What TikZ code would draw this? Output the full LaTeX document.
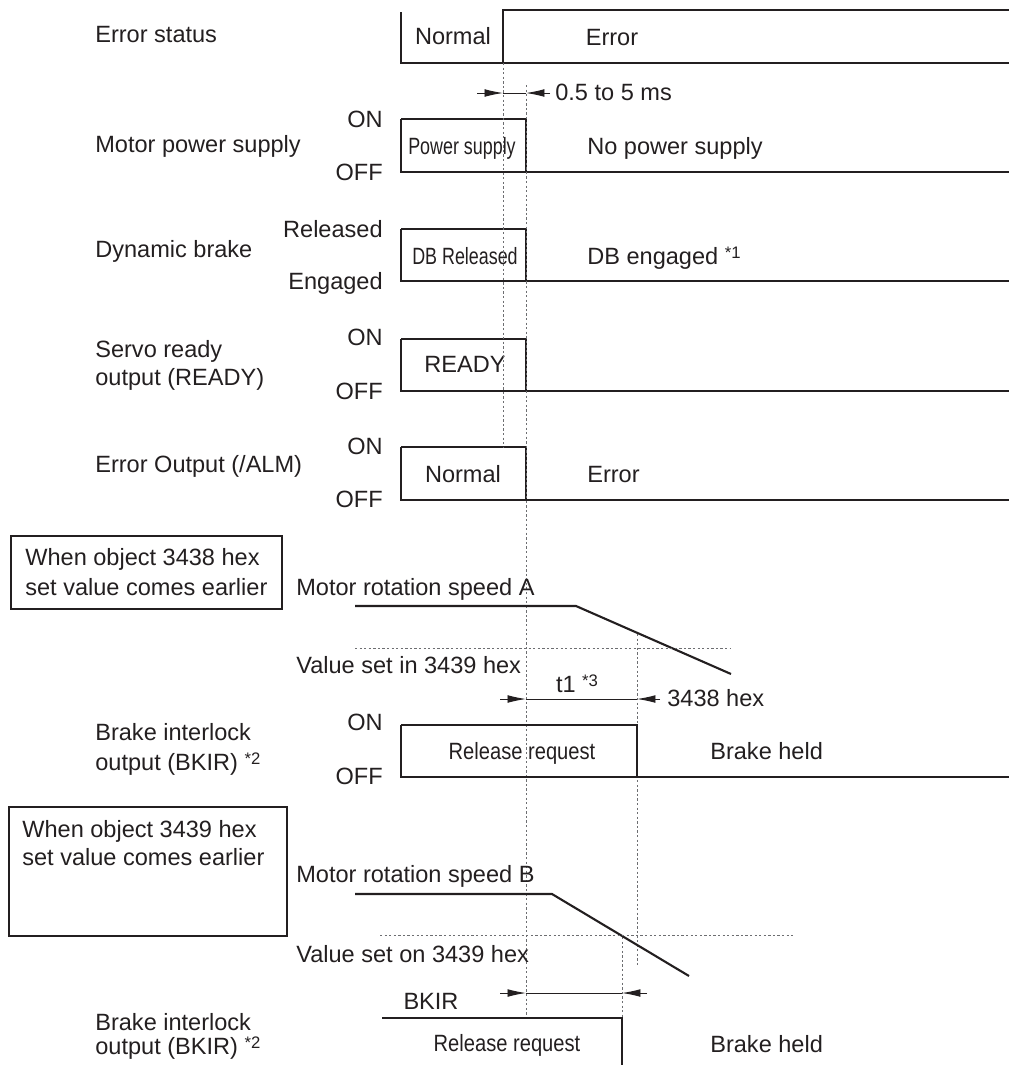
\documentclass[tikz,border=0pt]{standalone}
\usepackage{fontspec}
\setmainfont{Liberation Sans}
\usetikzlibrary{arrows.meta}
\definecolor{ink}{HTML}{231F20}
\definecolor{guidegray}{HTML}{6D6E71}
\newcommand{\narrow}[2]{\scalebox{#1}[1]{#2}}
\newcommand{\fnote}[1]{\raisebox{3.5pt}{\fontsize{9.5}{10}\selectfont *#1}}

\begin{document}
\begin{tikzpicture}[x=0.02cm, y=-0.02cm,
    every node/.style={inner sep=0pt, text=ink, yshift=-0.06cm, font=\fontsize{13.4}{16}\selectfont},
    lbl/.style={anchor=mid west},
    lvl/.style={anchor=mid east},
    mtxt/.style={anchor=mid},
    wave/.style={draw=ink, line width=1.2pt},
    boxedge/.style={draw=ink, line width=0.6pt},
    gline/.style={draw=guidegray, line width=0.5pt, dash pattern=on 1.3pt off 1.3pt},
    dim/.style={draw=ink, line width=0.5pt},
    dimtip/.style={draw=ink, line width=0.5pt, -{Latex[length=10.5pt, width=4.4pt]}}]

  \useasboundingbox (0,0) rectangle (1009,1065);

  % Signal names
  \node[lbl] (nErr)  at (95,35)   {Error status};
  \node[lbl] (nPow)  at (95,145)  {Motor power supply};
  \node[lbl] (nDB)   at (95,250)  {Dynamic brake};
  \node[lbl] (nRdy1) at (95,350)  {Servo ready};
  \node[lbl] (nRdy2) at (95,378)  {output (READY)};
  \node[lbl] (nAlm)  at (95,465)  {Error Output (/ALM)};
  \node[lbl] (nBkA1) at (95,733)  {Brake interlock};
  \node[lbl] (nBkA2) at (95,763)  {output (BKIR) \fnote{2}};
  \node[lbl] (nBkB1) at (95,1023) {Brake interlock};
  \node[lbl] (nBkB2) at (95,1047) {output (BKIR) \fnote{2}};

  % Level names
  \foreach \y/\txt/\nm in {120/ON/lPowOn, 173/OFF/lPowOff, 230/Released/lDBOn,
      282/Engaged/lDBOff, 338/ON/lRdyOn, 392/OFF/lRdyOff, 447/ON/lAlmOn,
      500/OFF/lAlmOff, 723/ON/lBkOn, 777/OFF/lBkOff}
    \node[lvl] (\nm) at (383,\y) {\txt};

  % Error status
  \draw[boxedge] (401,12) -- (401,63) -- (1009,63);
  \draw[wave] (503,63) -- (503,10) -- (1009,10);
  \node[mtxt] (sNorm) at (453,37) {Normal};
  \node[mtxt] (sErr)  at (612,38) {Error};

  % Outputs that drop at the same time
  \foreach \t/\b in {119/172, 229/281, 339/391, 447/500} {
    \draw[boxedge] (401,\t) -- (401,\b) -- (526,\b);
    \draw[wave] (401,\t) -- (526,\t) -- (526,\b) -- (1009,\b);
  }
  \node[mtxt] (sPow)   at (462,147) {\narrow{0.76}{Power supply}};
  \node[lbl]  (sNoPow) at (587,147) {No power supply};
  \node[mtxt] (sDBr)   at (465,257) {\narrow{0.76}{DB Released}};
  \node[lbl]  (sDBe)   at (587,257) {DB engaged \fnote{1}};
  \node[mtxt] (sRdy)   at (465,365) {READY};
  \node[mtxt] (sNorm2) at (463,475) {Normal};
  \node[lbl]  (sErr2)  at (587,475) {Error};

  % Guide lines
  \draw[gline] (503,63) -- (503,447);
  \draw[gline] (526,85) -- (526,1017);
  \draw[gline] (637,634) -- (637,965);
  \draw[gline] (622,937) -- (622,1017);

  % 0.5 to 5 ms
  \draw[dimtip] (477,93) -- (503,93);
  \draw[dim] (503,93) -- (526,93);
  \draw[dimtip] (550,93) -- (526,93);
  \node[lbl] (dDelay) at (555,93) {0.5 to 5 ms};

  % Case A: 3438 hex first
  \draw[boxedge] (11,536) rectangle (282,609);
  \node[lbl] (cA1) at (25,558) {When object 3438 hex};
  \node[lbl] (cA2) at (25,588) {set value comes earlier};
  \node[lbl] (spdA) at (296,588) {Motor rotation speed A};
  \draw[wave] (355,606) -- (576,606) -- (731,674);
  \draw[gline] (355,648) -- (731,648);
  \node[lbl] (thrA) at (296,666) {Value set in 3439 hex};
  \draw[dimtip] (500,699) -- (526,699);
  \draw[dim] (526,699) -- (637,699);
  \draw[dimtip] (660,699) -- (637,699);
  \node[mtxt] (tOne) at (577,685) {t1 \fnote{3}};
  \node[lbl] (dA) at (667,699) {3438 hex};
  \draw[boxedge] (401,725) -- (401,777) -- (637,777);
  \draw[wave] (401,725) -- (637,725) -- (637,777) -- (1009,777);
  \node[mtxt] (sRelA)  at (522,752) {\narrow{0.855}{Release request}};
  \node[lbl]  (sHeldA) at (710,752) {Brake held};

  % Case B: 3439 hex first
  \draw[boxedge] (9,807) rectangle (287,936);
  \node[lbl] (cB1) at (22,830) {When object 3439 hex};
  \node[lbl] (cB2) at (22,858) {set value comes earlier};
  \node[lbl] (spdB) at (296,875) {Motor rotation speed B};
  \draw[wave] (355,894) -- (552,894) -- (689,976);
  \draw[gline] (380,935) -- (793,935);
  \node[lbl] (thrB) at (296,955) {Value set on 3439 hex};
  \draw[dimtip] (500,993) -- (526,993);
  \draw[dim] (526,993) -- (622,993);
  \draw[dimtip] (647,993) -- (622,993);
  \node[mtxt] (dB) at (431,1002) {BKIR};
  \draw[wave] (382,1018) -- (622,1018) -- (622,1065);
  \node[mtxt] (sRelB)  at (507,1044) {\narrow{0.855}{Release request}};
  \node[lbl]  (sHeldB) at (710,1045) {Brake held};

\end{tikzpicture}
\end{document}
